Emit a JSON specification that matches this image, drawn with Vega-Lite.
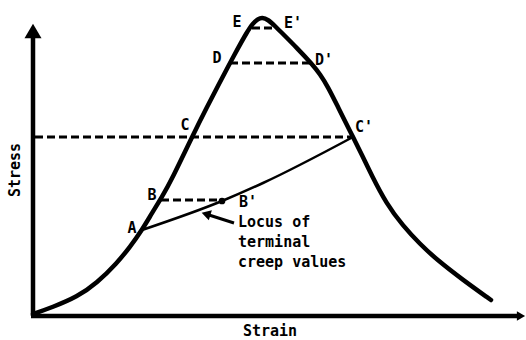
{
  "$schema": "https://vega.github.io/schema/vega-lite/v6.json",
  "width": 526,
  "height": 340,
  "autosize": {"type": "none"},
  "padding": 0,
  "background": "white",
  "config": {"view": {"stroke": null}},
  "encoding": {
    "x": {"field": "x", "type": "quantitative", "scale": {"domain": [0, 526], "nice": false, "zero": false}, "axis": null},
    "y": {"field": "y", "type": "quantitative", "scale": {"domain": [0, 340], "nice": false, "zero": false}, "axis": null}
  },
  "layer": [
    {
      "data": {"values": [
        {"x": 33, "y": 24, "x2": 33, "y2": 305},
        {"x": 31, "y": 24, "x2": 519, "y2": 24}
      ]},
      "mark": {"type": "rule", "color": "black", "strokeWidth": 4.5},
      "encoding": {"x2": {"field": "x2"}, "y2": {"field": "y2"}}
    },
    {
      "data": {"values": [{"x": 33, "y": 309}]},
      "mark": {"type": "point", "shape": "triangle-up", "size": 290, "filled": true, "color": "black", "opacity": 1},
      "encoding": {}
    },
    {
      "data": {"values": [{"x": 521, "y": 24}]},
      "mark": {"type": "point", "shape": "triangle-right", "size": 90, "filled": true, "color": "black", "opacity": 1},
      "encoding": {}
    },
    {
      "data": {"values": [
        {"x": 252, "y": 312, "x2": 275, "y2": 312},
        {"x": 230, "y": 277, "x2": 312, "y2": 277},
        {"x": 35, "y": 203, "x2": 353, "y2": 203},
        {"x": 161, "y": 140, "x2": 222, "y2": 140}
      ]},
      "mark": {"type": "rule", "color": "black", "strokeWidth": 3, "strokeDash": [8, 4]},
      "encoding": {"x2": {"field": "x2"}, "y2": {"field": "y2"}}
    },
    {
      "data": {"values": [
        {"x": 33, "y": 26}, {"x": 53, "y": 33}, {"x": 77, "y": 43}, {"x": 97, "y": 57},
        {"x": 117, "y": 77}, {"x": 130, "y": 93}, {"x": 142, "y": 110}, {"x": 152, "y": 127},
        {"x": 162, "y": 143}, {"x": 172, "y": 161}, {"x": 192, "y": 203}, {"x": 207, "y": 233},
        {"x": 220, "y": 258}, {"x": 230, "y": 277}, {"x": 237, "y": 290}, {"x": 247, "y": 308},
        {"x": 253, "y": 317}, {"x": 258, "y": 321}, {"x": 262, "y": 322.5}, {"x": 268, "y": 320.5},
        {"x": 275, "y": 314}, {"x": 283, "y": 306}, {"x": 297, "y": 292}, {"x": 312, "y": 276},
        {"x": 320, "y": 266}, {"x": 328, "y": 253}, {"x": 337, "y": 235}, {"x": 347, "y": 215},
        {"x": 353, "y": 203}, {"x": 362, "y": 185}, {"x": 372, "y": 164}, {"x": 386, "y": 137},
        {"x": 403, "y": 114}, {"x": 420, "y": 96}, {"x": 436, "y": 81}, {"x": 463, "y": 60},
        {"x": 491, "y": 40}
      ]},
      "mark": {"type": "line", "color": "black", "strokeWidth": 4.5, "interpolate": "basis", "strokeCap": "round"},
      "encoding": {"order": {"field": "x", "type": "quantitative"}}
    },
    {
      "data": {"values": [
        {"x": 142, "y": 110}, {"x": 222, "y": 139}, {"x": 263, "y": 157}, {"x": 353, "y": 203}
      ]},
      "mark": {"type": "line", "color": "black", "strokeWidth": 2.5, "interpolate": "monotone"},
      "encoding": {"order": {"field": "x", "type": "quantitative"}}
    },
    {
      "data": {"values": [{"x": 222, "y": 139}]},
      "mark": {"type": "point", "shape": "circle", "size": 45, "filled": true, "color": "black", "opacity": 1},
      "encoding": {}
    },
    {
      "data": {"values": [{"x": 234, "y": 117, "x2": 209, "y2": 125}]},
      "mark": {"type": "rule", "color": "black", "strokeWidth": 3},
      "encoding": {"x2": {"field": "x2"}, "y2": {"field": "y2"}}
    },
    {
      "data": {"values": [{"x": 206, "y": 126}]},
      "mark": {"type": "point", "shape": "triangle-left", "size": 110, "angle": 17, "filled": true, "color": "black", "opacity": 1},
      "encoding": {}
    },
    {
      "data": {"values": [
        {"x": 237, "y": 318, "label": "E"},
        {"x": 293, "y": 317, "label": "E'"},
        {"x": 217, "y": 282, "label": "D"},
        {"x": 324, "y": 280, "label": "D'"},
        {"x": 185, "y": 215, "label": "C"},
        {"x": 364, "y": 213, "label": "C'"},
        {"x": 152, "y": 145, "label": "B"},
        {"x": 248, "y": 138, "label": "B'"},
        {"x": 132, "y": 112, "label": "A"},
        {"x": 270, "y": 9, "label": "Strain"}
      ]},
      "mark": {"type": "text", "font": "DejaVu Sans Mono", "fontWeight": "bold", "fontSize": 15, "align": "center", "baseline": "middle", "color": "black"},
      "encoding": {"text": {"field": "label"}}
    },
    {
      "data": {"values": [
        {"x": 238, "y": 118, "label": "Locus of"},
        {"x": 238, "y": 98, "label": "terminal"},
        {"x": 238, "y": 78, "label": "creep values"}
      ]},
      "mark": {"type": "text", "font": "DejaVu Sans Mono", "fontWeight": "bold", "fontSize": 15, "align": "left", "baseline": "middle", "color": "black"},
      "encoding": {"text": {"field": "label"}}
    },
    {
      "data": {"values": [{"x": 15, "y": 170, "label": "Stress"}]},
      "mark": {"type": "text", "font": "DejaVu Sans Mono", "fontWeight": "bold", "fontSize": 15, "align": "center", "baseline": "middle", "angle": 270, "color": "black"},
      "encoding": {"text": {"field": "label"}}
    }
  ]
}
